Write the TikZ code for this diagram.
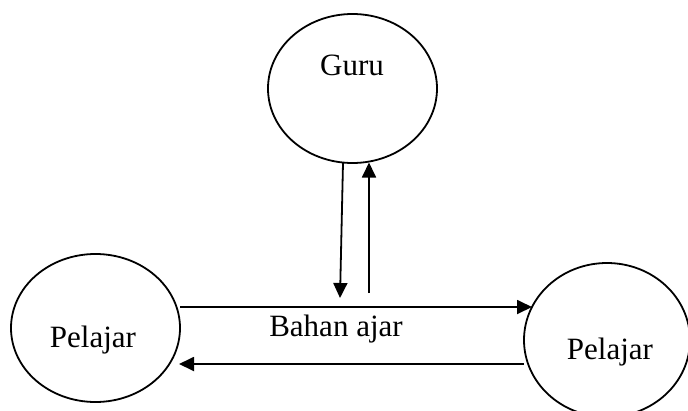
\documentclass[tikz,border=0pt]{standalone}
\usepackage{fontspec}
\setmainfont{Liberation Serif}
\usetikzlibrary{shapes.geometric,arrows.meta}
\begin{document}
\begin{tikzpicture}[x=1pt,y=-1pt,
  oval/.style={ellipse,draw,line width=1.8pt,inner sep=0pt,outer sep=0pt},
  lbl/.style={font=\fontsize{31}{36}\selectfont,inner sep=0pt},
  flow/.style={line width=1.8pt,-{Triangle[length=15pt,width=14pt]}}]
\useasboundingbox (0,0) rectangle (688,410);
\node[oval,minimum width=169pt,minimum height=149pt] (guru) at (352.5,88.5) {};
\node[oval,minimum width=169pt,minimum height=148pt] (lp) at (95.5,328) {};
\node[oval,minimum width=166pt,minimum height=154pt] (rp) at (607,340) {};
\node[lbl] (tguru) at (352,65) {Guru};
\node[lbl] (tlp) at (93,340) {Pelajar};
\node[lbl] (trp) at (610,352) {Pelajar};
\node[lbl] (tbahan) at (336,329) {Bahan ajar};
\coordinate (downend) at (340,298);
\coordinate (upstart) at (369,293);
\draw[flow] ([xshift=-9.5pt]guru.south) -- (downend);
\draw[flow] (upstart) -- ([xshift=16.5pt,yshift=0.5pt]guru.south);
\draw[flow] ([yshift=21pt]lp.east) -- ([xshift=8pt,yshift=33pt]rp.west);
\draw[flow] ([yshift=-24pt]rp.west) -- ([xshift=-1pt,yshift=-36pt]lp.east);
\end{tikzpicture}
\end{document}
